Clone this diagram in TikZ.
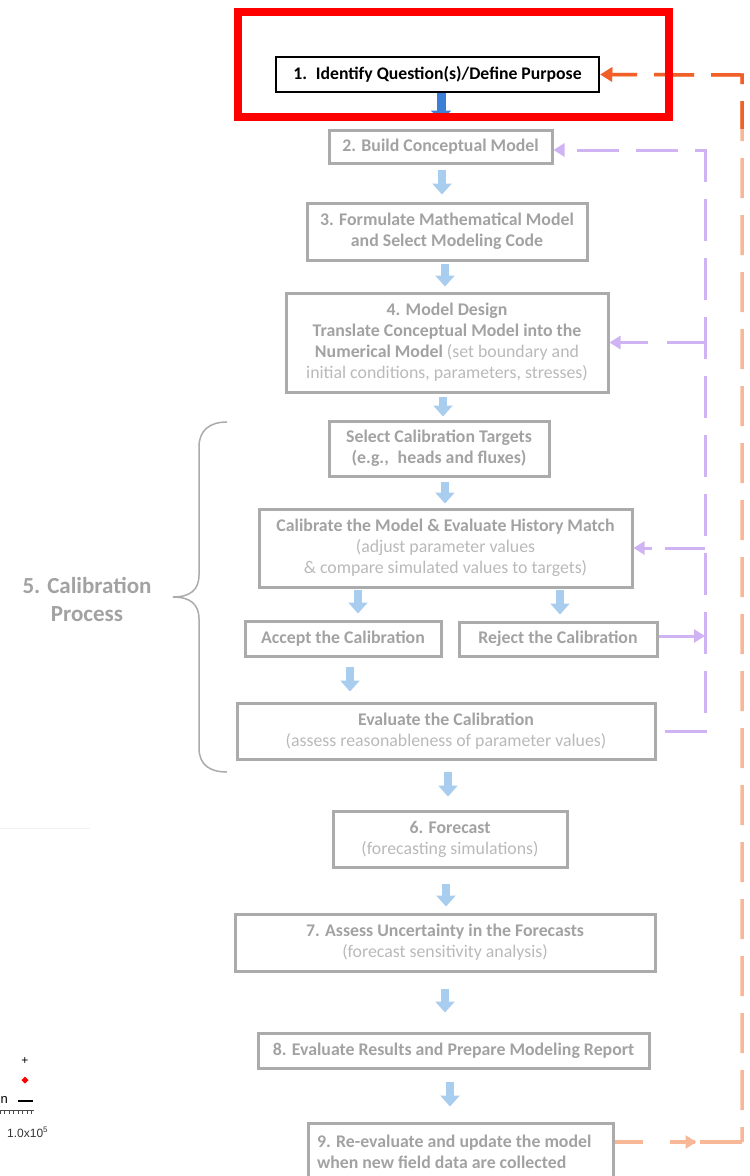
\documentclass[tikz,border=0pt]{standalone}
\usepackage{fontspec}
\setmainfont{Carlito}
\newfontfamily\plotfont{Liberation Sans}
\usetikzlibrary{arrows.meta,decorations.markings}

\definecolor{boxgray}{HTML}{ABABAB}
\definecolor{titlegray}{HTML}{A2A2A2}
\definecolor{notegray}{HTML}{B9B9B9}
\definecolor{flowblue}{HTML}{A9CDEF}
\definecolor{darkblue}{HTML}{3B80D6}
\definecolor{loopviolet}{HTML}{D0B3F3}
\definecolor{loopsalmon}{HTML}{F8B898}
\definecolor{loopred}{HTML}{F2602A}
\definecolor{markred}{HTML}{FF0000}

% lighter, regular-weight part of a box text
\newcommand\subnote[1]{{\mdseries\color{notegray}#1}}

\begin{document}
\begin{tikzpicture}[x=1pt,y=-1pt,
  stepbox/.style={draw=boxgray, line width=3pt, text=titlegray, align=center,
    inner sep=0pt, font=\fontsize{17.8}{21}\selectfont\bfseries},
  flow/.style={draw=flowblue, line width=8pt,
    -{Triangle[width=19pt,length=11pt]}},
  violetloop/.style={draw=loopviolet, line width=3pt, dash pattern=on 42pt off 17pt},
  violettip/.style={-{Triangle[width=13pt,length=11pt]}},
  salmonloop/.style={draw=loopsalmon, line width=3.5pt, dash pattern=on 40pt off 17pt},
]
\useasboundingbox (0,0) rectangle (750,1176);
\clip (0,0) rectangle (750,1176);

% ---------- process boxes ----------
\node[draw=black, line width=2.5pt, text=black, inner sep=0pt,
      font=\fontsize{17.7}{20}\selectfont\bfseries,
      minimum width=323pt, minimum height=35pt] (b1) at (437.5,74.5)
  {1.\enspace Identify Question(s)/Define Purpose};

\node[stepbox, minimum width=223pt, minimum height=33pt] (b2) at (440.5,146.5)
  {2. Build Conceptual Model};

\node[stepbox, minimum width=280pt, minimum height=57pt] (b3) at (447,231.5)
  {3. Formulate Mathematical Model\\and Select Modeling Code};

\node[stepbox, minimum width=322pt, minimum height=99pt] (b4) at (447,342.5)
  {4. Model Design\\Translate Conceptual Model into the\\
   Numerical Model \subnote{(set boundary and}\\
   \subnote{initial conditions, parameters, stresses)}};

\node[stepbox, minimum width=220pt, minimum height=55pt] (bt) at (439,448.5)
  {Select Calibration Targets\\(e.g.,\enspace heads and fluxes)};

\node[stepbox, minimum width=373pt, minimum height=78pt] (bc) at (445.5,548)
  {Calibrate the Model \& Evaluate History Match\\
   \subnote{(adjust parameter values}\\
   \subnote{\& compare simulated values to targets)}};

\node[stepbox, minimum width=196pt, minimum height=35pt] (ba) at (343,638.5)
  {Accept the Calibration};

\node[stepbox, minimum width=198pt, minimum height=34pt] (br) at (558,639)
  {Reject the Calibration};

\node[stepbox, minimum width=418pt, minimum height=56pt] (be) at (446,731)
  {Evaluate the Calibration\\
   \subnote{(assess reasonableness of parameter values)}};

\node[stepbox, minimum width=234pt, minimum height=56pt] (b6) at (450,839)
  {6. Forecast\\\subnote{(forecasting simulations)}};

\node[stepbox, minimum width=420pt, minimum height=57pt] (b7) at (445,942.5)
  {7. Assess Uncertainty in the Forecasts\\
   \subnote{(forecast sensitivity analysis)}};

\node[stepbox, minimum width=391pt, minimum height=35pt] (b8) at (453.5,1050.5)
  {8. Evaluate Results and Prepare Modeling Report};

\node[stepbox, text width=287pt, inner xsep=9pt, align=flush left,
      minimum height=58pt] (b9) at (460.5,1152)
  {9. Re-evaluate and update the model\\when new field data are collected};

% ---------- calibration brace and label ----------
\draw[draw=boxgray, line width=1.5pt]
  (227,422) .. controls (210,422) and (199,430) .. (199,447)
  -- (199,575) .. controls (199,590) and (190,597) .. (173,597)
  .. controls (190,597) and (199,604) .. (199,619)
  -- (199,748) .. controls (199,765) and (210,772) .. (227,772);
\node[text=titlegray, align=center, font=\fontsize{23}{28}\selectfont\bfseries]
  (calib) at (87,599) {5. Calibration\\Process};

% ---------- forward flow arrows ----------
\draw[darkblue, line width=9pt, -{Triangle[width=20pt,length=10pt]},
      shorten >=8pt]
  ([xshift=3.5pt]b1.south) -- ([xshift=3.5pt]b1.south |- b2.north);
\draw[flow, shorten <=5pt, shorten >=7pt]
  ([xshift=1.5pt]b2.south) -- ([xshift=1.5pt]b2.south |- b3.north);
\draw[flow, shorten <=2pt, shorten >=5pt]
  ([xshift=-2pt]b3.south) -- ([xshift=-2pt]b3.south |- b4.north);
\draw[flow, shorten <=3pt, shorten >=3pt]
  ([xshift=-4pt]b4.south) -- ([xshift=-4pt]b4.south |- bt.north);
\draw[flow, shorten <=4pt, shorten >=4pt]
  ([xshift=6pt]bt.south) -- ([xshift=6pt]bt.south |- bc.north);
\draw[flow, shorten <=1pt, shorten >=6pt]
  ([xshift=-87.5pt]bc.south) -- ([xshift=-87.5pt]bc.south |- ba.north);
\draw[flow, shorten <=1pt, shorten >=6pt]
  ([xshift=114.5pt]bc.south) -- ([xshift=114.5pt]bc.south |- br.north);
\draw[flow, shorten <=9pt, shorten >=10pt]
  ([xshift=7pt]ba.south) -- ([xshift=7pt]ba.south |- be.north);
\draw[flow, shorten <=11pt, shorten >=13pt]
  ([xshift=2pt]be.south) -- ([xshift=2pt]be.south |- b6.north);
\draw[flow, shorten <=15pt, shorten >=6pt]
  ([xshift=-4pt]b6.south) -- ([xshift=-4pt]b6.south |- b7.north);
\draw[flow, shorten <=16pt, shorten >=19pt]
  (b7.south) -- (b7.south |- b8.north);
\draw[flow, shorten <=12pt, shorten >=15pt]
  ([xshift=-3.5pt]b8.south) -- ([xshift=-3.5pt]b8.south |- b9.north);

% ---------- calibration feedback loop ----------
\coordinate (vtop) at (705,150);
\coordinate (vbot) at (705,732);
\draw[violetloop, violettip, dash phase=51pt]
  (be.east) -- (be.east -| vbot) -- (vtop) -- (vtop -| b2.east);
\draw[violetloop, violettip, dash pattern=on 38pt off 19pt]
  (vtop |- b4.east) -- (b4.east);
\draw[violetloop, violettip, dash pattern=on 40pt off 13pt]
  (vtop |- bc.east) -- (bc.east);
\draw[draw=loopviolet, line width=3pt, violettip]
  ([yshift=3pt]br.east) -- ([yshift=3pt]br.east -| vtop);

% ---------- model update loop ----------
\coordinate (otop) at (742,75);
\coordinate (obot) at (742,1142);
\draw[salmonloop, -{Triangle[width=14pt,length=12pt]}, dash phase=25pt]
  (obot) -- (otop) -- (b1.east);
\begin{scope}
  \clip (590,0) rectangle (750,128);
  \draw[salmonloop, draw=loopred, -{Triangle[width=14pt,length=12pt]}, dash phase=25pt]
    (obot) -- (otop) -- (b1.east);
\end{scope}
\draw[draw=loopsalmon, line width=3.5pt,
      dash pattern=on 28pt off 27pt on 25pt off 5pt on 60pt,
      postaction={decorate},
      decoration={markings, mark=at position 82pt with
        {\arrow[loopsalmon]{Triangle[width=13pt,length=11pt]}}}]
  ([yshift=10pt]b9.east) -- (obot);

% ---------- highlight frame ----------
\draw[markred, line width=8pt] (237.5,11.5) rectangle (669,117);

% ---------- leftover plot fragments ----------
\draw[gray!12, line width=1pt] (0,828) -- (90,828);
\node[font=\plotfont\fontsize{12}{12}\selectfont] (plus) at (25,1061) {+};
\fill[markred] (25,1076.5) -- (28.5,1080) -- (25,1083.5) -- (21.5,1080) -- cycle;
\node[font=\plotfont\fontsize{13}{13}\selectfont, anchor=east, inner sep=0pt] (ntxt) at (8,1100) {n};
\draw[black, line width=2pt] (18,1101) -- (33,1101);
\draw[black!70, line width=0.8pt] (0,1110) -- (34,1110);
\foreach \tx in {0,4.5,...,34} \draw[black!70, line width=0.6pt] (\tx,1110) -- (\tx,1114);
\node[font=\plotfont\fontsize{12}{12}\selectfont, text=black!80, inner sep=0pt,
      anchor=base west] (scale) at (7,1137) {1.0x10\textsuperscript{5}};
\end{tikzpicture}
\end{document}
